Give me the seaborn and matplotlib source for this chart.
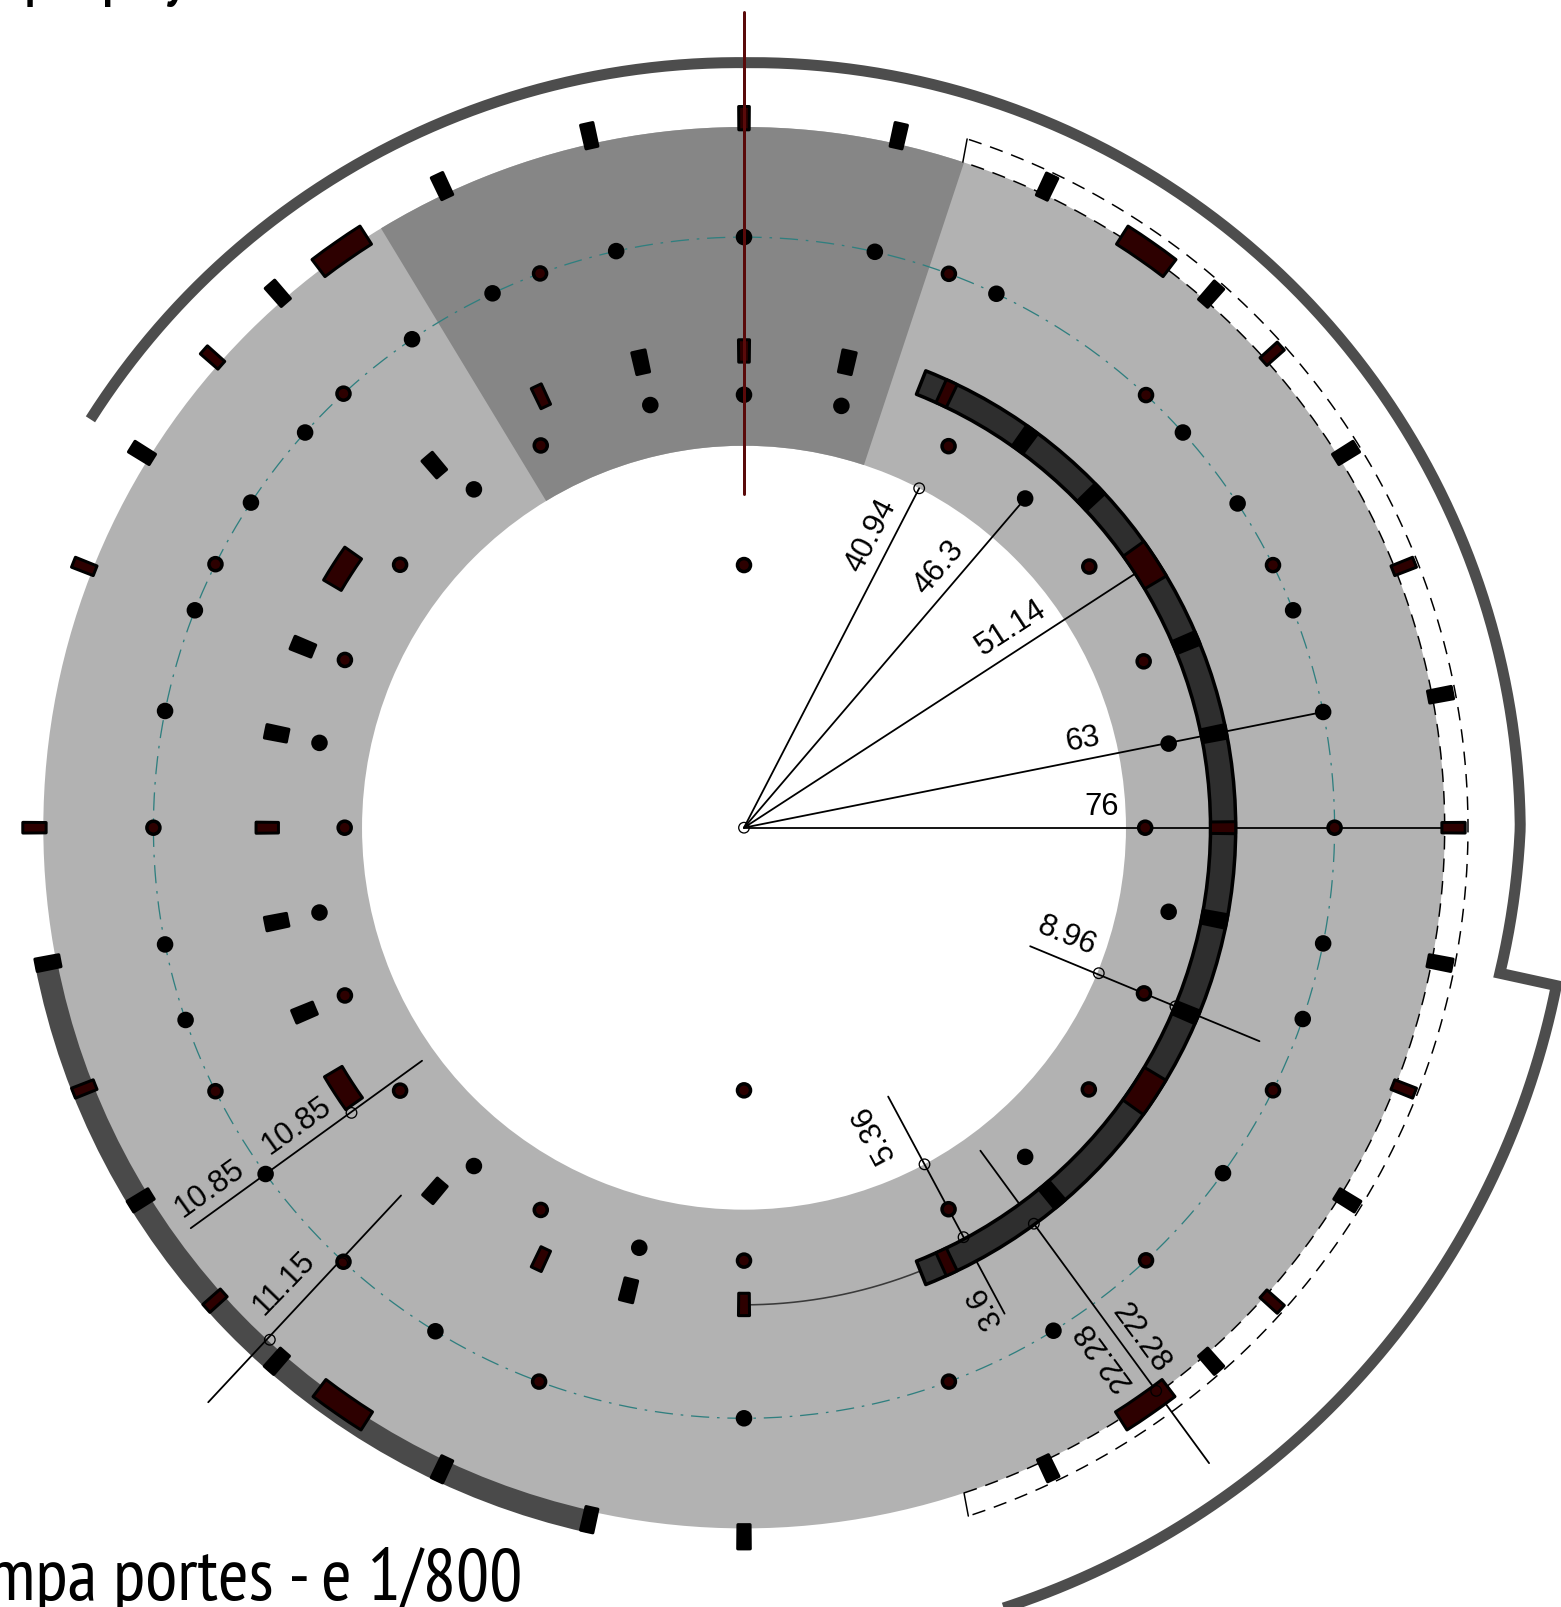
import numpy as np
import pandas as pd
import matplotlib
matplotlib.use("Agg")
import matplotlib.pyplot as plt
import seaborn as sns

sns.set_theme(style="white")
plt.rcParams['font.family'] = ['Liberation Sans', 'DejaVu Sans']

R_IN = 40.94
R_OUT = 75.1
R_GRID = 63.3
R_MID = 51.14

# doors on the outer wall
outer_black = [10.8, 31.9, 48.8, 64.7, 77.4, 102.6, 115.2, 131.1, 148.1, -11, -31.7, -48.8, -64.6, -90, -102.6, -115.2, -131.2, -148.3, -169]
outer_red = [0, 21.6, 41.9, 90, 138.5, 158.4, 180, -21.6, -41.9, -138.2, -158.4]
outer_big = [55.1, 124.9, -55.2, -124.8]

# doors on the middle ring, left side
mid_black = [77.5, 102.5, 130.5, 157.7, 168.6, -168.6, -157.2, -130.4, -104]
mid_red = [90, 115.2, 180, -115.2, -90]
mid_big = [147.2, -147]

# doors on the dark arc, right side
arc_black = [54.1, 43.6, 22.7, 11.3, -11, -22.7, -50]
arc_red = [65, 0, -65]
arc_big = [33.2, -33.3]

# columns on the grid circle
grid_black = [11.3, 21.6, 33.3, 42, 64.7, 77.2, 90, 102.5, 115.2, 124.2, 138, 146.6, 158.4, 168.6,
              -11.3, -18.9, -35.8, -58.4, -90, -121.5, -144.1, -161, -168.6]
grid_red = [0, 26.4, 47.1, 69.7, 110.2, 132.7, 153.5, 180, -26.4, -47.1, -69.7, -110.3, -132.7, -153.5]

# columns on the inner circle
inner_black = [11.2, 49.5, 77, 90, 102.5, 128.6, 168.7, -11.2, -49.5, -104, -128.6, -168.7]
inner_red = [22.6, 37.1, 61.8, 118, 142.6, 157.2, -22.5, -37.2, -61.8, -90, -118, -142.6, -157.2]
axis_red_theta = [0, 180]
axis_red_r = [43.0, 42.8]
center_theta = [90, -90]
center_r = [28.15, 28.15]

# dimension lines: angle, from, to
dim_theta = [62.7, 49.5, 33, 11.3, 0, -22.5, -61.8, -53.8, -144.1, -133]
dim_start = [0, 0, 0, 0, 0, 33.2, 32.7, 42.9, 42.6, 53.9]
dim_end = [40.94, 46.3, 50.0, 63.3, 76.5, 59.8, 59.1, 84.4, 73.2, 84.2]

# open circles at the ends of the dimensions
ring_theta = [0, 62.7, -22.3, -22.5, -61.8, -61.8, -53.8, -53.8, -144, -132.7, -132.8]
ring_r = [0, 40.94, 41.1, 50.05, 40.94, 49.8, 52.6, 74.8, 52, 63.5, 74.8]

# dimension labels
label_text = ["40.94", "46.3", "51.14", "63", "76", "8.96", "5.36", "3.6", "22.28", "22.28", "10.85", "10.85", "11.15"]
label_theta = [66.6, 53.3, 36.8, 14.8, 3.4, -18.4, -67, -63.3, -52.1, -55.7, 213.6, 214, 224.7]
label_r = [34.2, 34.9, 35.8, 37.5, 38.4, 36.4, 35.4, 57.4, 69.2, 68.4, 57.6, 69.1, 69.3]
label_rot = [62.7, 49.5, 33, 11.3, 0, -22.5, 118.3, 118.3, -53.8, 126.2, 35.5, 35.5, 46]

# heavy wall outline
wall_a_theta = [148, 90, 0, -10.9]
wall_a_r = [82.6, 82.0, 83.2, 82.5]
wall_b_theta = [-11, -76]
wall_b_r = [88.7, 88.1]

DARK = '#2d0000'
PX = 0.72  # points per pixel at dpi 100
SCALE = 9.33  # pixels per metre

fig = plt.figure(figsize=(15.61, 16.08), dpi=100)
half = 126 * SCALE
ax = fig.add_axes([(744 - half) / 1561, (1608 - 828.7 - half) / 1608, 2 * half / 1561, 2 * half / 1608], projection='polar')


def arc(t0, t1, r, **kw):
    t = np.linspace(t0, t1, 300)
    ax.plot(np.radians(t), np.full(t.shape, r), **kw)


def doors(angles, r0, r1, width, fill, z=5):
    ax.bar(np.radians(angles), r1 - r0, width=np.radians(width), bottom=r0, color=fill,
           edgecolor='black', linewidth=3 * PX, joinstyle='round', zorder=z)


def wall(theta, r):
    t = np.linspace(theta[0], theta[-1], 300)
    rr = np.interp(t, theta[::-1], r[::-1])
    return t, rr


# floor
ax.bar(0, R_OUT - R_IN, width=2 * np.pi, bottom=R_IN, color='#b2b2b2', linewidth=0, zorder=1)
ax.bar(np.radians((71.7 + 121.2) / 2), R_OUT - R_IN, width=np.radians(121.2 - 71.7), bottom=R_IN,
       color='#868686', linewidth=0, zorder=1.1)

# gray band on the lower left edge
ax.bar(np.radians((-169 - 102.6) / 2), 2.4, width=np.radians(66.4), bottom=75.0, color='#4a4a4a', linewidth=0, zorder=2)

# grid circle
arc(0, 360, R_GRID, color='#2f7f7f', lw=1.3 * PX, ls=(0, (14, 6, 2, 6)), zorder=2)

# dashed limits on the right
arc(-71.7, 71.7, R_OUT, color='black', lw=1.5 * PX, ls=(0, (9, 6)), zorder=2.5)
arc(-71.6, 71.9, 77.6, color='black', lw=1.5 * PX, ls=(0, (9, 6)), zorder=2.5)
for end in (71.8, -71.7):
    ax.plot(np.radians([end, end + 0.25 * np.sign(end)]), [R_OUT, 77.6], color='black', lw=1.5 * PX, zorder=2.5)

# heavy walls
t, rr = wall(wall_a_theta, wall_a_r)
t2, rr2 = wall(wall_b_theta, wall_b_r)
ax.plot(np.radians(np.r_[t, t2]), np.r_[rr, rr2], color='#4d4d4d', lw=11 * PX, solid_joinstyle='miter',
        solid_capstyle='butt', zorder=2)

# thin arc and dark arc
arc(-66, -90, R_MID, color='#3a3a3a', lw=1.6 * PX, zorder=2.5)
ax.bar(0, 2.7, width=np.radians(136.6), bottom=50.0, color='#2e2e2e', edgecolor='black', linewidth=3.5 * PX,
       joinstyle='round', zorder=4)

# dimension lines
for th, r0, r1 in zip(dim_theta, dim_start, dim_end):
    ax.plot(np.radians([th, th]), [r0, r1], color='black', lw=1.8 * PX, zorder=3)

# center line
ax.plot(np.radians([90, 90]), [35.8, 87.4], color='#5a0a0a', lw=3 * PX, zorder=7)

# columns
dots = pd.DataFrame({
    'theta': np.radians(grid_black + inner_black + grid_red + inner_red + axis_red_theta + center_theta),
    'r': [R_GRID] * len(grid_black) + [46.4] * len(inner_black) + [R_GRID] * len(grid_red) + [46.4] * len(inner_red) + axis_red_r + center_r,
    'kind': ['black'] * (len(grid_black) + len(inner_black)) + ['red'] * (len(grid_red) + len(inner_red) + len(axis_red_r) + len(center_r)),
})
sns.scatterplot(data=dots, x='theta', y='r', hue='kind', palette={'black': 'black', 'red': DARK}, s=88,
                edgecolor='black', linewidth=3.5 * PX, legend=False, ax=ax, zorder=6)

rings = pd.DataFrame({'theta': np.radians(ring_theta), 'r': ring_r})
sns.scatterplot(data=rings, x='theta', y='r', s=58, facecolor='none', edgecolor='black', linewidth=1.3 * PX,
                legend=False, ax=ax, zorder=6)

# doors
doors(outer_black, 74.7, 77.3, 1.0, 'black')
doors(outer_red, 74.8, 77.3, 0.85, DARK)
doors(outer_big, 74.2, 76.5, 4.7, DARK)
doors(mid_black, 49.9, 52.3, 1.6, 'black')
doors(mid_red, 49.9, 52.3, 1.3, DARK)
doors(mid_big, 50.1, 52.3, 4.6, DARK)
doors(arc_black, 50.0, 52.7, 1.6, 'black')
doors(arc_red, 50.0, 52.7, 1.4, DARK)
doors(arc_big, 50.0, 52.7, 4.8, DARK)

# labels
for txt, th, r, rot in zip(label_text, label_theta, label_r, label_rot):
    ax.text(np.radians(th), r, txt, rotation=rot, rotation_mode='anchor', ha='center', va='center',
            fontsize=31 * PX, color='black', zorder=8)

ax.set_rlim(0, 126)
ax.set_axis_off()

fig.text(522 / 1561, 8 / 1608, "Rampa portes - e 1/800", ha='right', va='baseline', color='black',
         fontsize=74 * PX, family=['PT Sans Narrow', 'Liberation Sans'])
fig.text(23 / 1561, (1608 + 8) / 1608, "pa pay", ha='left', va='baseline', color='black',
         fontsize=74 * PX, family=['PT Sans Narrow', 'Liberation Sans'])

fig.savefig('out.png', dpi=100, facecolor='white')
